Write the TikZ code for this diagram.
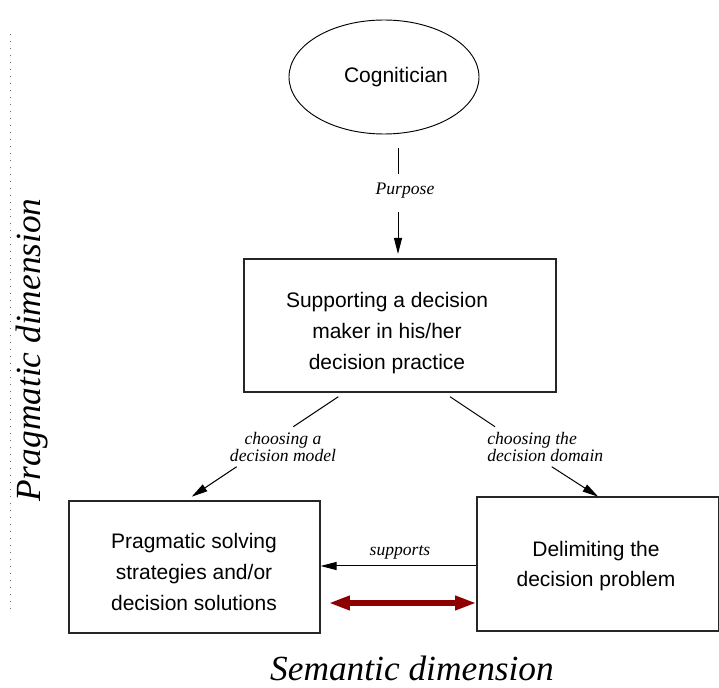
\documentclass[tikz,border=0pt]{standalone}
\usepackage{fontspec}
\setmainfont{Liberation Serif}
\setsansfont{Liberation Sans}
\usetikzlibrary{arrows.meta,shapes.geometric}
\definecolor{darkred}{HTML}{8E0000}
\begin{document}
\begin{tikzpicture}[x=0.75pt,y=-0.75pt,
  frame/.style={draw=black!85,line width=0.8pt,rectangle,inner sep=0pt},
  boxtext/.style={font=\sffamily\fontsize{15.75}{23}\selectfont,align=center,inner sep=0pt},
  edgelabel/.style={font=\itshape\fontsize{13.2}{11.4}\selectfont,inner sep=0pt},
  dimlabel/.style={font=\itshape\fontsize{26.5}{30}\selectfont,inner sep=0pt},
  link/.style={draw=black,line width=0.75pt},
  arr/.style={link,-{Triangle[length=12pt,width=6pt]}},
  bigarr/.style={draw=darkred,line width=4.5pt,{Triangle[length=16pt,width=10pt]}-{Triangle[length=16pt,width=10pt]}}]
\useasboundingbox (0,0) rectangle (719,688);

% dotted guide on the left
\coordinate (g1) at (10.5,34);
\coordinate (g2) at (10.5,612);
\draw[black!55,line width=0.8pt,dash pattern=on 0.8pt off 4.45pt] (g1) -- (g2);

% actor: outline ellipse (centre 384,77; radii 95 x 57 units) and its caption
\coordinate (cogw) at (289,77);
\draw[black,line width=0.7pt] (cogw) .. controls (289,45.5) and (331.5,20) .. (384,20)
  .. controls (436.5,20) and (479,45.5) .. (479,77)
  .. controls (479,108.5) and (436.5,134) .. (384,134)
  .. controls (331.5,134) and (289,108.5) .. (cogw) -- cycle;
\node[font=\sffamily\fontsize{15.75}{23}\selectfont,inner sep=0pt] (cog) at (396,77) {Cognitician};

% boxes
\node[frame,minimum width=234pt,minimum height=99.75pt] (b1) at (400,325.5) {};
\node[boxtext] (b1t) at (387,333) {Supporting a decision\\maker in his/her\\decision practice};

\node[frame,minimum width=188.25pt,minimum height=99pt] (b2) at (194.5,567) {};
\node[boxtext] (b2t) at (194,572) {Pragmatic solving\\strategies and/or\\decision solutions};

\node[frame,minimum width=181.5pt,minimum height=100.5pt] (b3) at (598,564) {};
\node[boxtext] (b3t) at (596,566) {Delimiting the\\decision problem};

% purpose link
\node[edgelabel] (purp) at (405,191) {Purpose};
\coordinate (pa) at (398,148);
\coordinate (pb) at (398,174);
\coordinate (pc) at (398,212);
\coordinate (pd) at (398,254);
\draw[link] (pa) -- (pb);
\draw[arr] (pc) -- (pd);

% decision model link
\node[edgelabel,align=center] (lm) at (283,447) {choosing a\\decision model};
\coordinate (la) at (338.3,396.7);
\coordinate (lb) at (293.3,426.7);
\coordinate (lc) at (236.7,466.7);
\coordinate (ld) at (191.7,496.7);
\draw[link] (la) -- (lb);
\draw[arr] (lc) -- (ld);

% decision domain link
\node[edgelabel,align=left] (rm) at (545.3,447) {choosing the\\decision domain};
\coordinate (ra) at (450,396.7);
\coordinate (rb) at (495,426.7);
\coordinate (rc) at (551.7,466.7);
\coordinate (rd) at (598.3,496.7);
\draw[link] (ra) -- (rb);
\draw[arr] (rc) -- (rd);

% supports link and the two-way link between the lower boxes
\node[edgelabel] (sup) at (400,552) {supports};
\draw[arr] (b3.west |- 0,566) -- (b2.east |- 0,566);
\draw[bigarr,shorten <=6pt] (b2.east |- 0,603) -- (b3.west |- 0,603);

% axis captions
\node[dimlabel,rotate=90] (prag) at (32,350) {Pragmatic dimension};
\node[dimlabel] (sem) at (412,668) {Semantic dimension};
\end{tikzpicture}
\end{document}
